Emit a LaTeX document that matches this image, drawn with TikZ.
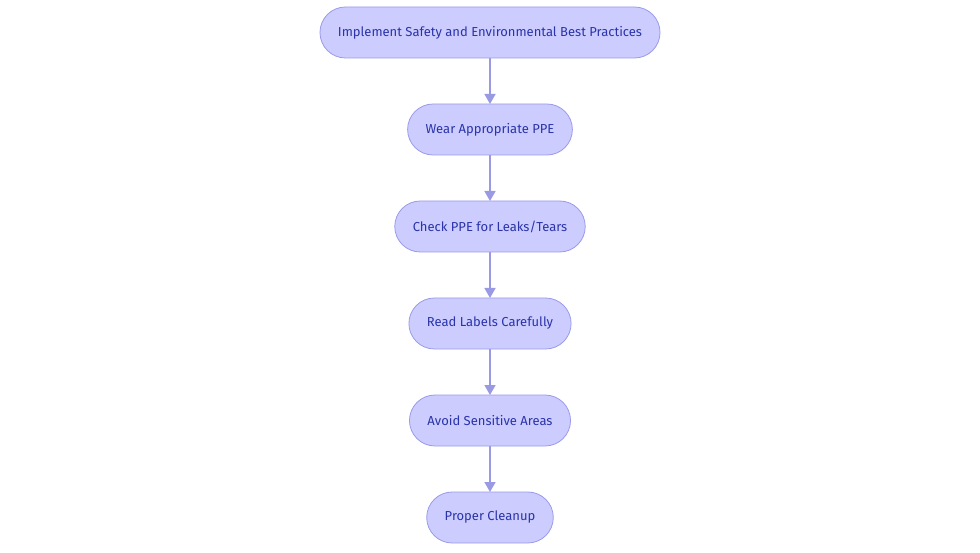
\documentclass[tikz,border=0pt]{standalone}
\usepackage{fontspec}
\setmainfont{Fira Sans}
\usetikzlibrary{positioning,arrows.meta}
\definecolor{stepfill}{HTML}{CCCCFF}
\definecolor{stepline}{HTML}{9A9AEA}
\definecolor{steptext}{HTML}{2A34A8}
\definecolor{steparrow}{HTML}{9999E4}
\begin{document}
\begin{tikzpicture}[
    x=1pt, y=1pt,
    stepbox/.style = {draw=stepline, fill=stepfill, rounded corners=25.5pt,
      minimum height=51pt, inner xsep=18pt, outer sep=0pt, text=steptext,
      font=\fontsize{13pt}{15pt}\selectfont, line width=0.8pt},
    steparr/.style = {draw=steparrow, line width=1.6pt,
      -{Triangle[length=10pt,width=11pt]}},
    node distance = 46pt
  ]
  \useasboundingbox (0,0) rectangle (980,-553);
  \node[stepbox] (impl) at (490,-32.5) {Implement Safety and Environmental Best Practices};
  \node[stepbox,below=of impl] (ppe) {Wear Appropriate PPE};
  \node[stepbox,below=of ppe] (check) {Check PPE for Leaks/Tears};
  \node[stepbox,below=of check] (labels) {Read Labels Carefully};
  \node[stepbox,below=of labels] (avoid) {Avoid Sensitive Areas};
  \node[stepbox,below=of avoid] (clean) {Proper Cleanup};

  \draw[steparr] (impl) -- (ppe);
  \draw[steparr] (ppe) -- (check);
  \draw[steparr] (check) -- (labels);
  \draw[steparr] (labels) -- (avoid);
  \draw[steparr] (avoid) -- (clean);
\end{tikzpicture}
\end{document}
